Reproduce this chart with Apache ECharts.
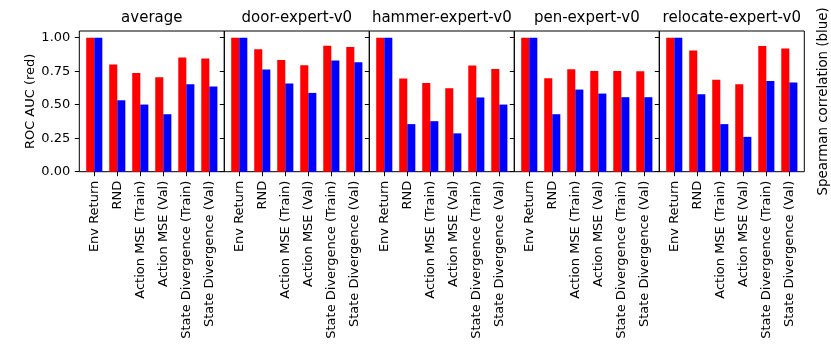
<!DOCTYPE html>
<html><head><meta charset="utf-8">
<script src="https://cdn.jsdelivr.net/npm/echarts@6/dist/echarts.min.js"></script>
<style>html,body{margin:0;padding:0;background:#fff}#c{width:831px;height:350px}</style>
</head><body><div id="c"></div>
<script>
const panels = ['average', 'door-expert-v0', 'hammer-expert-v0', 'pen-expert-v0', 'relocate-expert-v0'];
const categories = ['Env Return', 'RND', 'Action MSE (Train)', 'Action MSE (Val)', 'State Divergence (Train)', 'State Divergence (Val)'];
const rocAverage = [1.00, 0.800, 0.737, 0.705, 0.853, 0.844];
const spearmanAverage = [1.00, 0.533, 0.501, 0.429, 0.652, 0.635];
const rocDoor = [1.00, 0.913, 0.833, 0.794, 0.940, 0.930];
const spearmanDoor = [1.00, 0.762, 0.658, 0.588, 0.829, 0.816];
const rocHammer = [1.00, 0.695, 0.662, 0.623, 0.792, 0.767];
const spearmanHammer = [1.00, 0.355, 0.377, 0.286, 0.554, 0.501];
const rocPen = [1.00, 0.697, 0.764, 0.752, 0.752, 0.750];
const spearmanPen = [1.00, 0.429, 0.613, 0.583, 0.556, 0.556];
const rocRelocate = [1.00, 0.905, 0.687, 0.652, 0.938, 0.920];
const spearmanRelocate = [1.00, 0.578, 0.355, 0.260, 0.677, 0.665];
const yTicks = [0, 0.25, 0.5, 0.75, 1.0];

const rocSets = [rocAverage, rocDoor, rocHammer, rocPen, rocRelocate];
const spearmanSets = [spearmanAverage, spearmanDoor, spearmanHammer, spearmanPen, spearmanRelocate];

const FONT = 'DejaVu Sans';
const frameLeft0 = 79.3, panelW = 145, plotTop = 31, plotH = 140.7;
const xlimSpan = 6.3, dataSpan = 6;
const innerOffset = panelW * (xlimSpan - dataSpan) / 2 / xlimSpan;
const innerW = panelW * dataSpan / xlimSpan;

const grid = [], xAxis = [], yAxis = [], series = [];
panels.forEach((name, i) => {
  const fl = frameLeft0 + panelW * i;
  grid.push({left: fl, top: plotTop, width: panelW, height: plotH, show: true,
    borderColor: '#000', borderWidth: 1, backgroundColor: 'transparent', outerBoundsMode: 'none', containLabel: false});
  grid.push({left: fl + innerOffset, top: plotTop, width: innerW, height: plotH, outerBoundsMode: 'none', containLabel: false});
  xAxis.push({gridIndex: 2 * i, type: 'value', min: 0, max: 1, position: 'top',
    axisLine: {show: false}, axisTick: {show: false}, axisLabel: {show: false}, splitLine: {show: false},
    name: name, nameLocation: 'middle', nameGap: 5,
    nameTextStyle: {fontSize: 15, color: '#000', fontFamily: FONT}});
  xAxis.push({gridIndex: 2 * i + 1, type: 'category', data: categories,
    axisLine: {show: false},
    axisTick: {show: true, alignWithLabel: true, length: 4.5, lineStyle: {color: '#000', width: 1}},
    axisLabel: {rotate: 90, interval: 0, fontSize: 13, color: '#000', margin: 9, fontFamily: FONT},
    splitLine: {show: false}});
  yAxis.push({gridIndex: 2 * i, type: 'value', min: 0, max: 1.05,
    axisLine: {show: false}, splitLine: {show: false},
    axisTick: {show: true, length: 4.5, customValues: yTicks, lineStyle: {color: '#000', width: 1}},
    axisLabel: {show: i === 0, customValues: yTicks, formatter: v => v.toFixed(2),
      fontSize: 13, color: '#000', margin: 9, fontFamily: FONT},
    name: i === 0 ? 'ROC AUC (red)' : '', nameLocation: 'middle', nameRotate: 90, nameGap: 41,
    nameTextStyle: {fontSize: 13, color: '#000', fontFamily: FONT}});
  yAxis.push({gridIndex: 2 * i + 1, type: 'value', min: 0, max: 1.05, show: false, splitLine: {show: false}});
  series.push({type: 'bar', xAxisIndex: 2 * i + 1, yAxisIndex: 2 * i + 1, data: rocSets[i],
    barWidth: '35%', barGap: '0%', itemStyle: {color: '#ff0000'}, silent: true});
  series.push({type: 'bar', xAxisIndex: 2 * i + 1, yAxisIndex: 2 * i + 1, data: spearmanSets[i],
    barWidth: '35%', barGap: '0%', itemStyle: {color: '#0000ff'}, silent: true});
});
yAxis.push({gridIndex: 8, type: 'value', min: 0, max: 1.05, position: 'right',
  axisLine: {show: false}, axisTick: {show: false}, axisLabel: {show: false}, splitLine: {show: false},
  name: 'Spearman correlation (blue)', nameLocation: 'middle', nameRotate: 90, nameGap: 13,
  nameTextStyle: {fontSize: 13.4, color: '#000', fontFamily: FONT}});

const chart = echarts.init(document.getElementById('c'), null, {renderer: 'canvas'});
chart.setOption({animation: false, backgroundColor: '#fff', textStyle: {fontFamily: FONT},
  grid, xAxis, yAxis, series});
</script></body></html>
